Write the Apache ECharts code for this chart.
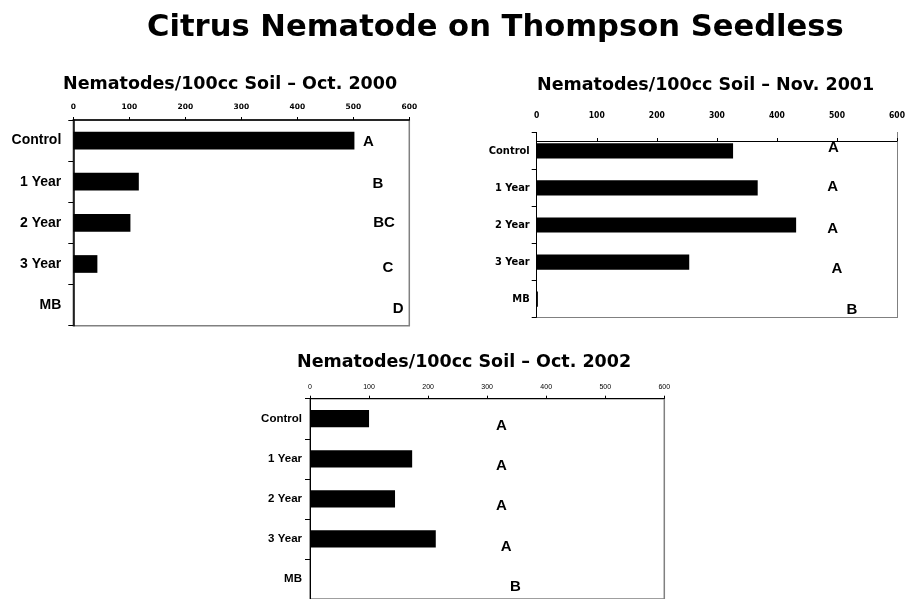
<!DOCTYPE html>
<html>
<head>
<meta charset="utf-8">
<script src="https://cdn.jsdelivr.net/npm/echarts@6/dist/echarts.min.js"></script>
<style>
  html, body { margin: 0; padding: 0; background: #fff; }
  #chart { width: 908px; height: 599px; }
</style>
</head>
<body>
<div id="chart"></div>
<script>
  // treatments, top to bottom
  var treatments = ['Control', '1 Year', '2 Year', '3 Year', 'MB'];

  // nematodes / 100cc soil
  var oct2000 = [502, 117, 102, 43, 0];
  var nov2001 = [327, 368, 432, 254, 2];
  var oct2002 = [100, 173, 144, 213, 0];

  // significance letters
  var letters2000 = ['A', 'B', 'BC', 'C', 'D'];
  var letters2001 = ['A', 'A', 'A', 'A', 'B'];
  var letters2002 = ['A', 'A', 'A', 'A', 'B'];

  // where the letters sit: x in nematodes, y in treatment rows
  var letterX2000 = [527, 544, 555, 562, 580];
  var letterRow2000 = [0.03, 1.06, 2.0, 3.1, 4.1];
  var letterX2001 = [494, 493, 493, 500, 525];
  var letterRow2001 = [-0.07, 0.98, 2.1, 3.19, 4.29];
  var letterX2002 = [324, 324, 324, 332, 348];
  var letterRow2002 = [0.17, 1.17, 2.17, 3.21, 4.2];

  var WIDE = '"DejaVu Sans", "Liberation Sans", Arial, sans-serif';
  var ARIAL = '"Liberation Sans", Arial, sans-serif';
  var NARROW = '"Liberation Sans Narrow", "DejaVu Sans Condensed", "Liberation Sans", Arial, sans-serif';

  function pairs(xs, ys) {
    return xs.map(function (x, i) { return [x, ys[i]]; });
  }

  function valueAxis(grid, opt) {
    return {
      type: 'value', gridIndex: grid, position: 'top',
      min: 0, max: 600, interval: 100,
      offset: opt.offset || 0,
      splitLine: { show: false },
      axisLine: { show: true, onZero: false, lineStyle: { color: '#000', width: opt.lineWidth } },
      axisTick: { show: true, length: 3, lineStyle: { color: '#000' } },
      axisLabel: {
        margin: opt.margin, color: '#000',
        fontFamily: opt.font, fontSize: opt.fontSize, fontWeight: opt.weight
      }
    };
  }

  function catAxis(grid, opt) {
    return {
      type: 'category', gridIndex: grid, inverse: true, data: treatments,
      axisLine: { show: true, onZero: false, lineStyle: { color: '#000', width: opt.lineWidth } },
      axisTick: { show: true, length: 5, lineStyle: { color: '#000' } },
      axisLabel: {
        margin: opt.margin, color: '#000',
        fontFamily: opt.font, fontSize: opt.fontSize, fontWeight: 'bold'
      }
    };
  }

  function rowAxis(grid, border) {
    return {
      type: 'value', gridIndex: grid, inverse: true, min: -0.5, max: 4.5,
      position: 'right',
      axisLine: { show: border, onZero: false, lineStyle: { color: '#808080', width: 1 } },
      axisTick: { show: false }, axisLabel: { show: false }, splitLine: { show: false }
    };
  }

  function letterSeries(xi, yi, xs, rows, letters) {
    return {
      type: 'scatter', xAxisIndex: xi, yAxisIndex: yi,
      data: pairs(xs, rows), symbolSize: 1,
      itemStyle: { color: 'transparent', opacity: 1 },
      label: {
        show: true, position: 'inside', color: '#000', opacity: 1,
        textBorderWidth: 0,
        fontFamily: ARIAL, fontSize: 15, fontWeight: 'bold',
        formatter: function (p) { return letters[p.dataIndex]; }
      },
      silent: true
    };
  }

  var subTitle = { fontFamily: WIDE, fontSize: 17.5, fontWeight: 'bold', color: '#000' };

  var myChart = echarts.init(document.getElementById('chart'));
  myChart.setOption({
    animation: false,
    backgroundColor: '#fff',
    title: [
      { text: 'Citrus Nematode on Thompson Seedless', left: 142, top: 8,
        textStyle: { fontFamily: WIDE, fontSize: 30.6, fontWeight: 'bold', color: '#000' } },
      { text: 'Nematodes/100cc Soil – Oct. 2000', left: 58, top: 70, textStyle: subTitle },
      { text: 'Nematodes/100cc Soil – Nov. 2001', left: 532, top: 71, textStyle: subTitle },
      { text: 'Nematodes/100cc Soil – Oct. 2002', left: 292, top: 348, textStyle: subTitle }
    ],
    grid: [
      { left: 73.3, top: 120, width: 336, height: 205.7, show: true,
        borderColor: '#808080', borderWidth: 1.5 },
      { left: 536.7, top: 132.4, width: 361.6, height: 185.2 },
      { left: 310, top: 398.7, width: 354.3, height: 203, show: true,
        borderColor: '#808080', borderWidth: 1.5 }
    ],
    xAxis: [
      valueAxis(0, { lineWidth: 1.5, margin: 9, font: WIDE, fontSize: 7.5, weight: 'bold' }),
      valueAxis(1, { lineWidth: 1, margin: 21, offset: -8.6, font: NARROW, fontSize: 8.5, weight: 'bold' }),
      valueAxis(2, { lineWidth: 1, margin: 8, font: ARIAL, fontSize: 7, weight: 'normal' }),
      // bottom frame of the 2001 panel
      { type: 'value', gridIndex: 1, position: 'bottom', min: 0, max: 600,
        axisLine: { show: true, onZero: false, lineStyle: { color: '#808080', width: 1 } },
        axisTick: { show: false }, axisLabel: { show: false }, splitLine: { show: false } }
    ],
    yAxis: [
      catAxis(0, { lineWidth: 1.5, margin: 12, font: ARIAL, fontSize: 14 }),
      catAxis(1, { lineWidth: 1, margin: 7, font: NARROW, fontSize: 11 }),
      catAxis(2, { lineWidth: 1, margin: 8, font: ARIAL, fontSize: 11.5 }),
      rowAxis(0, false),
      rowAxis(1, true),
      rowAxis(2, false)
    ],
    series: [
      { type: 'bar', xAxisIndex: 0, yAxisIndex: 0, data: oct2000,
        barCategoryGap: '57%', itemStyle: { color: '#000' }, silent: true },
      { type: 'bar', xAxisIndex: 1, yAxisIndex: 1, data: nov2001,
        barCategoryGap: '59%', itemStyle: { color: '#000' }, silent: true },
      { type: 'bar', xAxisIndex: 2, yAxisIndex: 2, data: oct2002,
        barCategoryGap: '57%', itemStyle: { color: '#000' }, silent: true },
      letterSeries(0, 3, letterX2000, letterRow2000, letters2000),
      letterSeries(1, 4, letterX2001, letterRow2001, letters2001),
      letterSeries(2, 5, letterX2002, letterRow2002, letters2002)
    ]
  });
</script>
</body>
</html>
